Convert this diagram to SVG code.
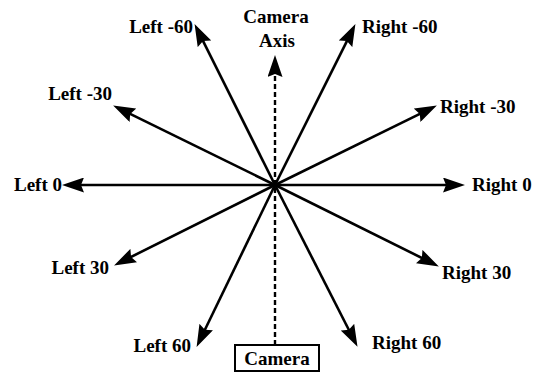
<svg xmlns="http://www.w3.org/2000/svg" width="550" height="374" viewBox="0 0 550 374">
<style>
text{font-family:"Liberation Serif","Times New Roman",serif;font-weight:bold;font-size:19px;fill:#000}
.ray{stroke:#000;stroke-width:2.6;fill:none;marker-end:url(#ah)}
.axis{stroke:#000;stroke-width:2.4;fill:none;stroke-dasharray:5,3;marker-end:url(#ah)}
.l{text-anchor:end}
.r{text-anchor:start}
.m{text-anchor:middle}
</style>
<defs>
<marker id="ah" viewBox="0 0 22 15" refX="11" refY="7.5" markerWidth="22" markerHeight="15" markerUnits="userSpaceOnUse" orient="auto">
<path d="M0,0 L22,7.5 L0,15 L3,7.5 z" fill="#000"/>
</marker>
</defs>
<rect width="550" height="374" fill="#fff"/>
<g id="connectors">
<line class="axis" x1="275" y1="345" x2="275" y2="66"/>
<line class="ray" x1="275" y1="185" x2="199.5" y2="33.9"/>
<line class="ray" x1="275" y1="185" x2="350.5" y2="33.9"/>
<line class="ray" x1="275" y1="185" x2="123" y2="110.4"/>
<line class="ray" x1="275" y1="185" x2="427" y2="110.4"/>
<line class="ray" x1="275" y1="185" x2="73" y2="185"/>
<line class="ray" x1="275" y1="185" x2="454" y2="185"/>
<line class="ray" x1="275" y1="185" x2="123.9" y2="260.5"/>
<line class="ray" x1="275" y1="185" x2="429" y2="261.5"/>
<line class="ray" x1="275" y1="185" x2="201.4" y2="337"/>
<line class="ray" x1="275" y1="185" x2="352.5" y2="337"/>
</g>
<g id="camera-axis"><text class="m" x="276" y="23">Camera</text><text class="m" x="277" y="47">Axis</text></g>
<g id="left-m60"><text class="l" x="193" y="33">Left -60</text></g>
<g id="left-m30"><text class="l" x="112" y="100">Left -30</text></g>
<g id="left-0"><text class="l" x="62" y="191">Left 0</text></g>
<g id="left-30"><text class="l" x="109" y="274">Left 30</text></g>
<g id="left-60"><text class="l" x="191" y="352">Left 60</text></g>
<g id="right-m60"><text class="r" x="362" y="33">Right -60</text></g>
<g id="right-m30"><text class="r" x="440" y="113">Right -30</text></g>
<g id="right-0"><text class="r" x="472" y="191">Right 0</text></g>
<g id="right-30"><text class="r" x="442" y="279">Right 30</text></g>
<g id="right-60"><text class="r" x="372" y="349">Right 60</text></g>
<g id="camera">
<rect x="235" y="345" width="84" height="26" fill="#fff" stroke="#000" stroke-width="2"/>
<text class="m" x="277" y="365">Camera</text>
</g>
</svg>
